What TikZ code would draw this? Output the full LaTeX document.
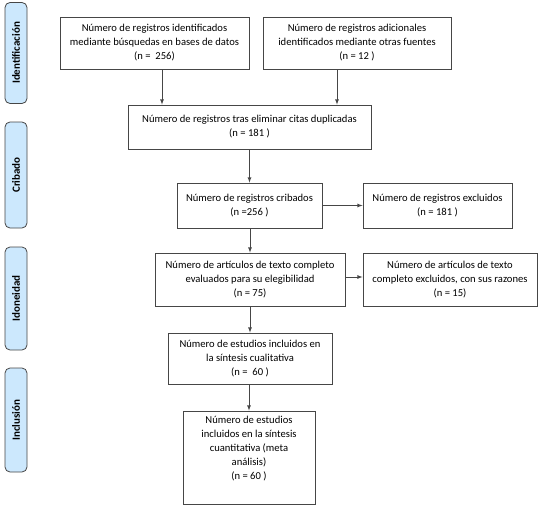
\documentclass[tikz,border=0pt]{standalone}
\usepackage{fontspec}
\setmainfont{Carlito}
\usepackage{tikz}
\usetikzlibrary{arrows,positioning}
\definecolor{fase}{RGB}{204,232,253}
\definecolor{borde}{RGB}{70,70,70}

\begin{document}
\begin{tikzpicture}[x=1pt, y=-1pt,
  caja/.style={rectangle, draw=borde, line width=0.8pt, align=center, font=\fontsize{10.6}{14}\selectfont, inner sep=2pt},
  fasebox/.style={rectangle, rounded corners=5pt, draw=borde, line width=0.8pt, fill=fase, minimum width=22pt},
  fasetext/.style={rotate=90, font=\fontsize{11}{13}\selectfont\bfseries},
  flecha/.style={-latex, draw=borde, line width=0.8pt}
]
\useasboundingbox (0,0) rectangle (538,511);

% Phase bars on the left
\node[fasebox, minimum height=101pt] (fid) at (16,53) {};
\node[fasetext] at (fid) {Identificación};
\node[fasebox, minimum height=106pt] (fcr) at (16,175) {};
\node[fasetext] at (fcr) {Cribado};
\node[fasebox, minimum height=103pt] (fio) at (16,298.5) {};
\node[fasetext] at (fio) {Idoneidad};
\node[fasebox, minimum height=104pt] (fin) at (16,420) {};
\node[fasetext] at (fin) {Inclusión};

% Identification
\node[caja, minimum width=189pt, minimum height=52pt] (bus) at (154.5,43) {Número de registros identificados\\mediante búsquedas en bases de datos\\(n =\ \ 256)};
\node[caja, minimum width=188pt, minimum height=52pt] (adi) at (357,43) {Número de registros adicionales\\identificados mediante otras fuentes\\(n = 12 )};
\node[caja, minimum width=243pt, minimum height=44pt] (dup) at (249.5,127) {Número de registros tras eliminar citas duplicadas\\(n = 181 )};

% Screening
\node[caja, minimum width=145pt, minimum height=45pt] (cri) at (249.5,205.5) {Número de registros cribados\\(n =256 )};
\node[caja, minimum width=149pt, minimum height=45pt] (exc) at (437.5,205.5) {Número de registros excluidos\\(n = 181 )};

% Eligibility
\node[caja, minimum width=190pt, minimum height=53pt] (art) at (250,279.5) {Número de artículos de texto completo\\evaluados para su elegibilidad\\(n = 75)};
\node[caja, minimum width=174pt, minimum height=53pt] (arx) at (450,279.5) {Número de artículos de texto\\completo excluidos, con sus razones\\(n = 15)};

% Inclusion
\node[caja, minimum width=164pt, minimum height=51pt] (cua) at (250,358.5) {Número de estudios incluidos en\\la síntesis cualitativa\\(n =\ \ 60 )};
\node[caja, minimum width=132pt, minimum height=93pt] (cnt) at (249,457.5) {Número de estudios\\incluidos en la síntesis\\cuantitativa (meta\\análisis)\\(n = 60 )\\[6pt]};

% Arrows
\draw[flecha] ([xshift=7.5pt]bus.south) -- ([xshift=7.5pt]bus.south |- dup.north);
\draw[flecha] ([xshift=-20pt]adi.south) -- ([xshift=-20pt]adi.south |- dup.north);
\draw[flecha] (dup.south -| cri.north) -- (cri.north);
\draw[flecha] (cri.east) -- (exc.west);
\draw[flecha] (cri.south -| art.north) -- (art.north);
\draw[flecha] ([yshift=2.5pt]art.east) -- ([yshift=2.5pt]art.east -| arx.west);
\draw[flecha] (art.south) -- (cua.north);
\draw[flecha] (cua.south -| cnt.north) -- (cnt.north);
\end{tikzpicture}
\end{document}
